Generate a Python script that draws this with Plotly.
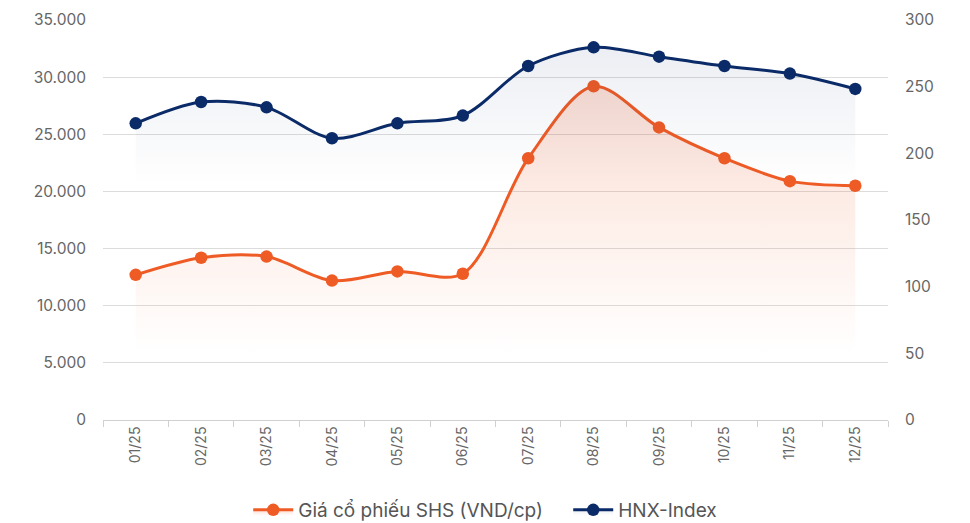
import plotly.graph_objects as go

months = ["01/25", "02/25", "03/25", "04/25", "05/25", "06/25",
          "07/25", "08/25", "09/25", "10/25", "11/25", "12/25"]
shs_price = [12700, 14200, 14300, 12200, 13000, 12800,
             22900, 29200, 25600, 22900, 20900, 20500]
hnx_index = [222.5, 238.5, 234.5, 211.3, 222.5, 228.3,
             265.5, 279.5, 272.5, 265.5, 259.8, 248.3]

left_ticks = [0, 5000, 10000, 15000, 20000, 25000, 30000, 35000]
right_ticks = [0, 50, 100, 150, 200, 250, 300]

ORANGE = "#EF5B25"
NAVY = "#0B2B68"
FONT = "Inter"

fig = go.Figure()

fig.add_trace(go.Scatter(
    x=months, y=shs_price, name="Giá cổ phiếu SHS (VND/cp)",
    mode="lines+markers", line=dict(color=ORANGE, width=3, shape="spline", smoothing=0.9),
    marker=dict(size=12.5, color=ORANGE),
    fill="tozeroy",
    fillgradient=dict(type="vertical", start=5700, stop=29200,
                      colorscale=[[0, "rgba(239,91,37,0)"], [0.35, "rgba(239,91,37,0.07)"],
                                  [1, "rgba(239,91,37,0.2)"]]),
    yaxis="y",
))

fig.add_trace(go.Scatter(
    x=months, y=hnx_index, name="HNX-Index",
    mode="lines+markers", line=dict(color=NAVY, width=3, shape="spline", smoothing=0.9),
    marker=dict(size=12.5, color=NAVY),
    fill="tozeroy",
    fillgradient=dict(type="vertical", start=176, stop=280,
                      colorscale=[[0, "rgba(11,43,104,0)"], [1, "rgba(11,43,104,0.08)"]]),
    yaxis="y2",
))

fig.update_layout(
    width=962, height=515,
    margin=dict(l=95, r=82, t=12, b=103, autoexpand=False),
    paper_bgcolor="white", plot_bgcolor="white",
    separators=",.",
    font=dict(family=FONT, size=14, color="#666666"),
    showlegend=True,
    legend=dict(orientation="h", x=0.185, xanchor="left", y=-0.225, yanchor="middle",
                font=dict(size=19, color="#555555"), itemwidth=40, entrywidth=265),
    xaxis=dict(
        type="category", range=[-0.5, 11.5], tickangle=-90, automargin=False,
        showline=True, linecolor="#d0d0d0", linewidth=1,
        ticks="outside", tickson="boundaries", ticklen=6, tickcolor="#d0d0d0",
        showgrid=False, tickfont=dict(size=14, color="#666666"),
    ),
    yaxis=dict(
        range=[0, 35000], tickvals=left_ticks, tickformat=",d", automargin=False,
        showgrid=True, gridcolor="#dcdcdc", gridwidth=1, zeroline=False,
        showline=False, ticks="", ticklabelstandoff=16,
        tickfont=dict(size=15.5, color="#666666"),
    ),
    yaxis2=dict(
        range=[0, 300], tickvals=right_ticks, overlaying="y", side="right", automargin=False,
        showgrid=False, zeroline=False, showline=False, ticks="", ticklabelstandoff=16,
        tickfont=dict(size=15.5, color="#666666"),
    ),
)

fig.write_html("out.html")
